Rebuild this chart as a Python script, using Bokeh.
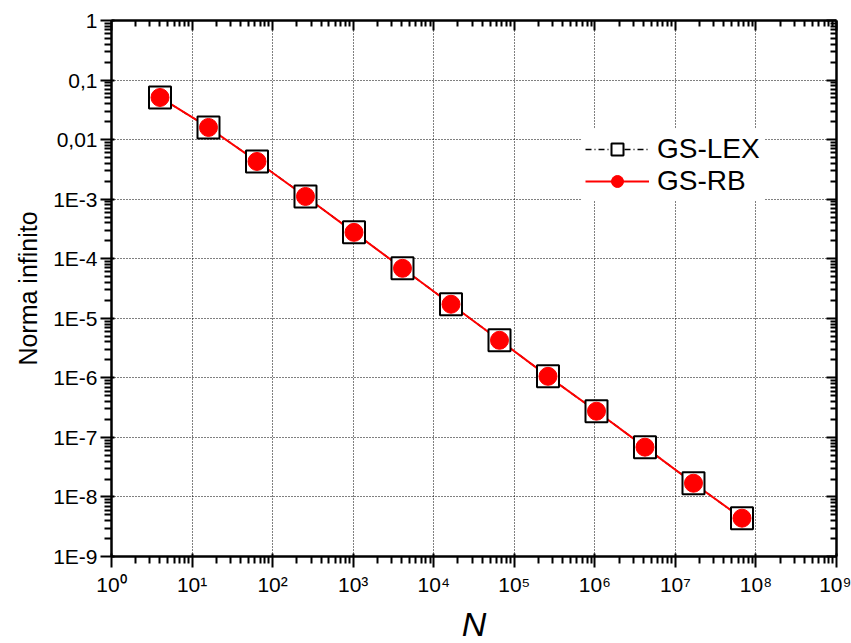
from bokeh.plotting import figure
from bokeh.models import (LogAxis, FixedTicker, CustomJSTickFormatter, Legend, LegendItem,
                          Range1d, ColumnDataSource)
from bokeh.embed import file_html
from bokeh.resources import INLINE

# Data
N = [4, 16, 64, 256, 1024, 4096, 16384, 65536, 262144, 1048576, 4194304, 16777216, 67108864]
gs_lex = [0.051, 0.016, 0.0043, 0.00111, 2.77e-4, 6.9e-5, 1.72e-5, 4.27e-6, 1.06e-6, 2.75e-7, 6.85e-8, 1.7e-8, 4.4e-9]
gs_rb = [0.051, 0.016, 0.0043, 0.00111, 2.77e-4, 6.9e-5, 1.72e-5, 4.27e-6, 1.06e-6, 2.75e-7, 6.85e-8, 1.7e-8, 4.4e-9]

x_major = [10.0 ** k for k in range(0, 10)]
y_major = [10.0 ** k for k in range(-9, 1)]
x_minor = [m * 10.0 ** k for k in range(0, 9) for m in range(2, 10)]
y_minor = [m * 10.0 ** k for k in range(-9, 0) for m in range(2, 10)]

FONT = "Liberation Sans"

p = figure(frame_width=725, frame_height=536, x_axis_type="log", y_axis_type="log",
           x_range=Range1d(1, 1e9), y_range=Range1d(1e-9, 1),
           output_backend="svg", toolbar_location=None,
           min_border_left=111, min_border_right=15, min_border_top=20, min_border_bottom=87)
p.background_fill_color = "white"
p.border_fill_color = "white"
p.outline_line_color = None

xfmt = CustomJSTickFormatter(code="""
const e = Math.round(Math.log10(tick));
const sup = {'0':'\u2070','1':'\u00b9','2':'\u00b2','3':'\u00b3','4':'\u2074','5':'\u2075','6':'\u2076','7':'\u2077','8':'\u2078','9':'\u2079','-':'\u207b'};
return '10' + String(e).split('').map(c => sup[c]).join('');
""")
yfmt = CustomJSTickFormatter(code="""
const e = Math.round(Math.log10(tick));
if (e == 0) return '1';
if (e == -1) return '0,1';
if (e == -2) return '0,01';
return '1E' + e;
""")
blank = CustomJSTickFormatter(code="return '';")

def style_axis(ax, outward=True):
    ax.axis_line_width = 2.5
    ax.axis_line_color = "black"
    ax.major_tick_line_width = 2
    ax.minor_tick_line_width = 2
    ax.major_tick_line_color = "black"
    ax.minor_tick_line_color = "black"
    if outward:
        ax.major_tick_out = 11
        ax.major_tick_in = 3
        ax.minor_tick_out = 7
        ax.minor_tick_in = 0
    else:
        ax.major_tick_out = 0
        ax.major_tick_in = 10
        ax.minor_tick_out = 0
        ax.minor_tick_in = 6
    ax.major_label_text_font = FONT
    ax.major_label_text_font_size = "21px"
    ax.major_label_text_color = "black"

xax = p.xaxis[0]
xax.ticker = FixedTicker(ticks=x_major, minor_ticks=x_minor)
xax.formatter = xfmt
style_axis(xax)
xax.major_label_standoff = 5
xax.axis_label = "N"
xax.axis_label_text_font = FONT
xax.axis_label_text_font_style = "italic"
xax.axis_label_text_font_size = "34px"
xax.axis_label_text_color = "black"
xax.axis_label_standoff = 6

yax = p.yaxis[0]
yax.ticker = FixedTicker(ticks=y_major, minor_ticks=y_minor)
yax.formatter = yfmt
style_axis(yax)
yax.major_label_standoff = 3
yax.axis_label = "Norma infinito"
yax.axis_label_text_font = FONT
yax.axis_label_text_font_style = "normal"
yax.axis_label_text_font_size = "25px"
yax.axis_label_text_color = "black"
yax.axis_label_standoff = 8

top = LogAxis(ticker=FixedTicker(ticks=x_major, minor_ticks=x_minor), formatter=blank)
style_axis(top, outward=False)
top.major_label_text_font_size = "0px"
top.major_label_standoff = 0
p.add_layout(top, "above")
right = LogAxis(ticker=FixedTicker(ticks=y_major, minor_ticks=y_minor), formatter=blank)
style_axis(right, outward=False)
right.major_label_text_font_size = "0px"
right.major_label_standoff = 0
p.add_layout(right, "right")

for g in (p.xgrid[0], p.ygrid[0]):
    g.grid_line_color = "black"
    g.grid_line_dash = "1 2"
    g.grid_line_width = 1
p.xgrid[0].ticker = FixedTicker(ticks=x_major)
p.ygrid[0].ticker = FixedTicker(ticks=y_major)

src = ColumnDataSource(dict(x=N, lex=gs_lex, rb=gs_rb))
l1 = p.line("x", "lex", source=src, line_color="black", line_width=1.5, line_dash="6 3 1 3")
l2 = p.line("x", "rb", source=src, line_color="red", line_width=2)
s1 = p.scatter("x", "lex", source=src, marker="square", size=22, fill_color="white",
               line_color="black", line_width=2)
s2 = p.scatter("x", "rb", source=src, marker="circle", size=18, fill_color="red",
               line_color="red", line_width=1)

legend = Legend(items=[LegendItem(label="GS-LEX", renderers=[l1, s1]),
                       LegendItem(label="GS-RB", renderers=[l2, s2])],
                location=(470, 355))
legend.background_fill_color = "white"
legend.background_fill_alpha = 1
legend.border_line_alpha = 0
legend.label_text_font = FONT
legend.label_text_font_size = "28px"
legend.label_text_color = "black"
legend.glyph_width = 64
legend.glyph_height = 30
legend.label_standoff = 8
legend.spacing = 0
legend.padding = 4
p.add_layout(legend, "center")

open("out.html", "w").write(file_html(p, INLINE))
